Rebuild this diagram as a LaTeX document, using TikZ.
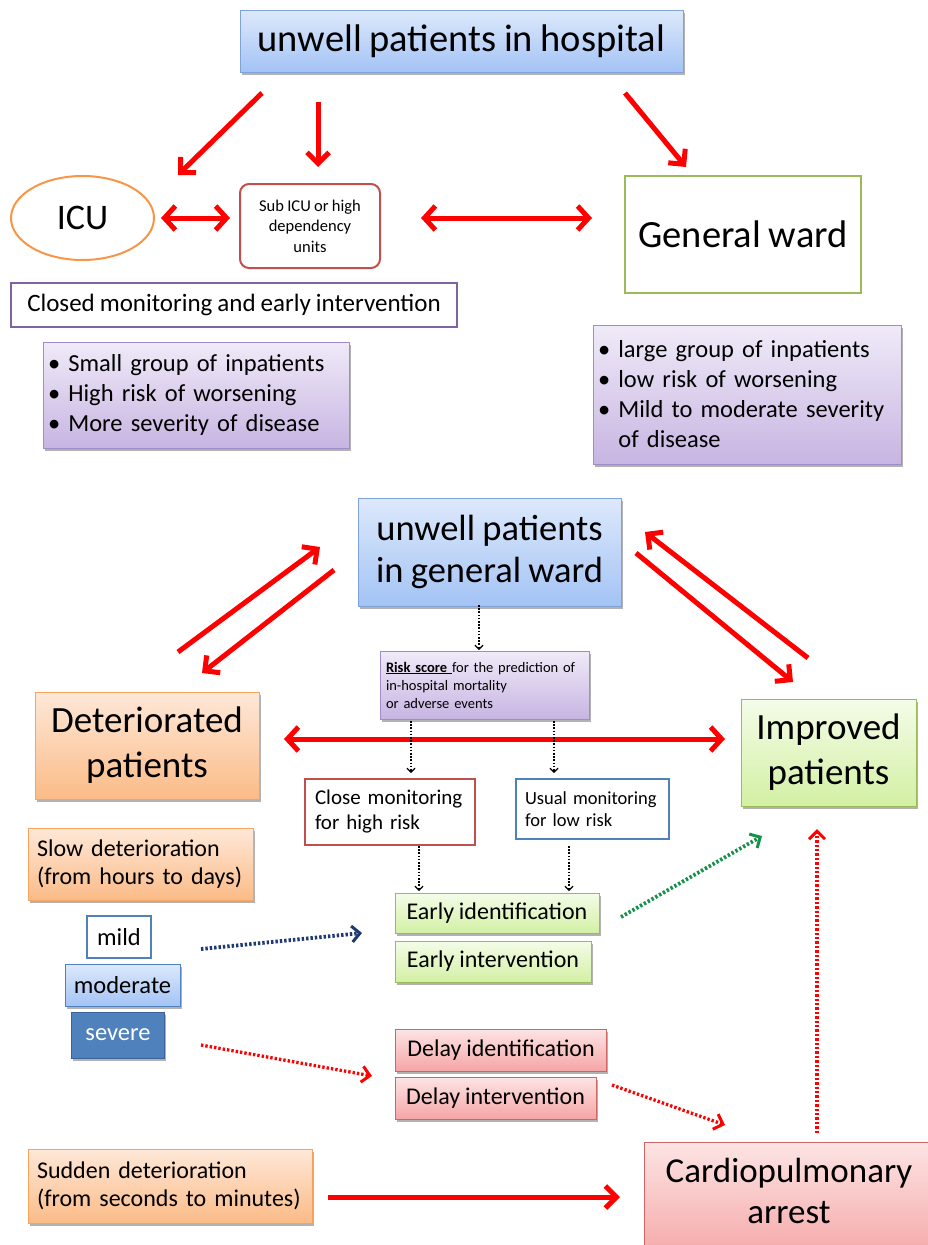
\documentclass[tikz,border=0pt]{standalone}
\usepackage{fontspec}
\setmainfont{Carlito}
\usetikzlibrary{arrows.meta,shadows,shapes.geometric}
\newcommand{\fsz}[2]{\fontsize{#1}{#2}\selectfont\spaceskip=0.2em plus 0.1em minus 0.05em\relax}
\definecolor{bluetop}{HTML}{DDE9FB}
\definecolor{bluebot}{HTML}{A3C3F5}
\definecolor{blueline}{HTML}{7FA3D6}
\definecolor{purtop}{HTML}{F0EAF8}
\definecolor{purbot}{HTML}{C7B5E2}
\definecolor{purline}{HTML}{A08CC6}
\definecolor{ortop}{HTML}{FEE8D8}
\definecolor{orbot}{HTML}{FBBB87}
\definecolor{orline}{HTML}{F7A45C}
\definecolor{grtop}{HTML}{F4FCE8}
\definecolor{grbot}{HTML}{D3F0A4}
\definecolor{grline}{HTML}{9BBB59}
\definecolor{rdtop}{HTML}{FDE4E4}
\definecolor{rdbot}{HTML}{F5A5A5}
\definecolor{rdline}{HTML}{D06565}
\definecolor{brick}{HTML}{C0504D}
\definecolor{accblue}{HTML}{4F81BD}
\definecolor{darkblue}{HTML}{3A6398}
\definecolor{icuor}{HTML}{F79646}
\definecolor{purple}{HTML}{8064A2}
\definecolor{navy}{HTML}{1F3A70}
\definecolor{dgreen}{HTML}{14924A}
\begin{document}
\begin{tikzpicture}[x=1pt,y=-1pt,
  base/.style={rectangle, inner sep=0pt, align=center, text=black},
  shad/.style={drop shadow={shadow xshift=1.5pt, shadow yshift=-2.5pt, opacity=0.3, fill=black}},
  bluebox/.style={base, shad, draw=blueline, line width=1pt, top color=bluetop, bottom color=bluebot},
  purbox/.style={base, shad, draw=purline, line width=1pt, top color=purtop, bottom color=purbot},
  orbox/.style={base, shad, draw=orline, line width=1pt, top color=ortop, bottom color=orbot},
  grbox/.style={base, shad, draw=grline, line width=1pt, top color=grtop, bottom color=grbot},
  rdbox/.style={base, shad, draw=rdline, line width=1pt, top color=rdtop, bottom color=rdbot},
  plainbox/.style={base, fill=white, line width=2pt},
  rarrow/.style={draw=red, line width=5pt, -{Straight Barb[length=11pt,width=22pt]}},
  rboth/.style={draw=red, line width=5pt, {Straight Barb[length=11pt,width=24pt]}-{Straight Barb[length=11pt,width=24pt]}},
  kdot/.style={draw=black, line width=1.2pt, dash pattern=on 1.6pt off 1.6pt, -{Straight Barb[length=4pt,width=8pt,line width=1.2pt]}},
  cdot/.style={line width=3.8pt, dash pattern=on 2.4pt off 2pt, -{Straight Barb[length=8pt,width=16pt,line width=3pt]}}
]
\useasboundingbox (0,0) rectangle (928,1245);

% ---------- upper part ----------
\node[bluebox, minimum width=443pt, minimum height=62pt, font=\fsz{38.5}{44}] (hosp) at (461.5,41) {unwell patients in hospital};
\node[ellipse, draw=icuor, line width=2pt, fill=white, minimum width=143pt, minimum height=84pt, inner sep=0pt, font=\fsz{36}{40}] (icu) at (82.5,218) {ICU};
\node[plainbox, draw=brick, rounded corners=9pt, minimum width=140pt, minimum height=84pt, font=\fsz{16.5}{20.5}] (sub) at (310,226) {Sub ICU or high\\dependency\\units};
\node[plainbox, draw=grline, minimum width=236pt, minimum height=117pt, font=\fsz{38.5}{44}] (gward) at (743,234.5) {General ward};
\node[plainbox, draw=purple, minimum width=446pt, minimum height=44pt, font=\fsz{25}{28}] (closed) at (234,305) {Closed monitoring and early intervention};
\node[purbox, align=left, inner xsep=5pt, text width=296pt, minimum height=106pt, font=\fsz{24.5}{30}] (lbul) at (196,395) {• Small group of inpatients\\• High risk of worsening\\• More severity of disease};
\node[purbox, align=left, inner xsep=5pt, text width=298pt, minimum height=139pt, font=\fsz{24.5}{30}] (rbul) at (747,394.5) {• large group of inpatients\\• low risk of worsening\\• Mild to moderate severity\\\hphantom{•\ }of disease};

\coordinate (a1s) at (262,93);  \coordinate (a1e) at (178,175);
\coordinate (a2s) at (318,102); \coordinate (a2e) at (318,167);
\coordinate (a3s) at (625,93);  \coordinate (a3e) at (686,167);
\coordinate (a4s) at (161,218); \coordinate (a4e) at (230,218);
\coordinate (a5s) at (421,218); \coordinate (a5e) at (592,218);
\draw[rarrow] (a1s) -- (a1e);
\draw[rarrow] (a2s) -- (a2e);
\draw[rarrow] (a3s) -- (a3e);
\draw[rboth] (a4s) -- (a4e);
\draw[rboth] (a5s) -- (a5e);

% ---------- lower part ----------
\node[bluebox, minimum width=263pt, minimum height=108pt, font=\fsz{36.5}{42}] (gw) at (489.5,552) {unwell patients\\in general ward};
\node[purbox, align=left, inner xsep=6pt, text width=197pt, minimum height=68pt, font=\fsz{14.5}{18}] (risk) at (484.5,685) {\underline{\textbf{Risk score}\ }for the prediction of\\in-hospital mortality\\or adverse events};
\node[orbox, minimum width=224pt, minimum height=107pt, font=\fsz{37}{45}] (det) at (147,745.5) {Deteriorated\\patients};
\node[grbox, minimum width=175pt, minimum height=107pt, font=\fsz{37}{45}] (imp) at (828.5,752.5) {Improved\\patients};
\node[plainbox, draw=brick, align=left, inner xsep=10pt, text width=150pt, minimum height=66pt, font=\fsz{21}{25}] (close) at (390,812) {Close monitoring\\for high risk};
\node[plainbox, draw=accblue, align=left, inner xsep=9pt, text width=135pt, minimum height=60pt, font=\fsz{18.5}{22}] (usual) at (592.5,809) {Usual monitoring\\for low risk};
\node[orbox, align=left, inner xsep=9pt, text width=207pt, minimum height=72pt, font=\fsz{24}{28}] (slow) at (140.5,864) {Slow deterioration\\(from hours to days)};
\node[grbox, minimum width=204pt, minimum height=40pt, font=\fsz{24}{27}] (eid) at (497,913) {Early identification};
\node[grbox, minimum width=196pt, minimum height=41pt, font=\fsz{24}{27}] (eint) at (493,961.5) {Early intervention};
\node[plainbox, draw=accblue, minimum width=64pt, minimum height=42pt, font=\fsz{24.5}{28}] (mild) at (119,937) {mild};
\node[bluebox, draw=accblue, minimum width=115pt, minimum height=42pt, font=\fsz{24.5}{28}] (moderate) at (122.5,985) {moderate};
\node[base, shad, fill=accblue, draw=darkblue, line width=1pt, text=white, minimum width=93pt, minimum height=46pt, font=\fsz{24.5}{28}] (severe) at (118,1035) {severe};
\node[rdbox, minimum width=211pt, minimum height=42pt, font=\fsz{24}{27}] (did) at (501,1050) {Delay identification};
\node[rdbox, minimum width=201pt, minimum height=42pt, font=\fsz{24}{27}] (dint) at (495.5,1098) {Delay intervention};
\node[rdbox, minimum width=290pt, minimum height=120pt, font=\fsz{35}{41}, text depth=22pt] (cpa) at (789,1202) {Cardiopulmonary\\arrest};
\node[orbox, align=left, inner xsep=9pt, text width=266pt, minimum height=74pt, font=\fsz{24}{28}] (sudden) at (170,1186) {Sudden deterioration\\(from seconds to minutes)};

\coordinate (b1s) at (178,652); \coordinate (b1e) at (320,547);
\coordinate (b2s) at (334,570); \coordinate (b2e) at (202,673);
\coordinate (b3s) at (808,658); \coordinate (b3e) at (645,532);
\coordinate (b4s) at (636,553); \coordinate (b4e) at (793,682);
\coordinate (b5s) at (284,739); \coordinate (b5e) at (725,739);
\draw[rarrow] (b1s) -- (b1e);
\draw[rarrow] (b2s) -- (b2e);
\draw[rarrow] (b3s) -- (b3e);
\draw[rarrow] (b4s) -- (b4e);
\draw[rboth] (b5s) -- (b5e);

\coordinate (k1s) at (479,605); \coordinate (k1e) at (479,650);
\coordinate (k2s) at (411,721); \coordinate (k2e) at (411,773);
\coordinate (k3s) at (554,721); \coordinate (k3e) at (554,773);
\coordinate (k4s) at (419,846); \coordinate (k4e) at (419,891);
\coordinate (k5s) at (569,846); \coordinate (k5e) at (569,891);
\draw[kdot] (k1s) -- (k1e);
\draw[kdot] (k2s) -- (k2e);
\draw[kdot] (k3s) -- (k3e);
\draw[kdot] (k4s) -- (k4e);
\draw[kdot] (k5s) -- (k5e);

\coordinate (n1s) at (201,949);  \coordinate (n1e) at (362,933);
\coordinate (g1s) at (621,917);  \coordinate (g1e) at (762,836);
\coordinate (r1s) at (201,1045); \coordinate (r1e) at (372,1076);
\coordinate (r2s) at (612,1085); \coordinate (r2e) at (725,1125);
\coordinate (r3s) at (817,1133); \coordinate (r3e) at (817,829);
\draw[cdot, draw=navy] (n1s) -- (n1e);
\draw[cdot, draw=dgreen] (g1s) -- (g1e);
\draw[cdot, draw=red, line width=3.3pt] (r1s) -- (r1e);
\draw[cdot, draw=red, line width=3.3pt] (r2s) -- (r2e);
\draw[cdot, draw=red, line width=3.3pt] (r3s) -- (r3e);
\coordinate (s1s) at (328,1197); \coordinate (s1e) at (620,1197);
\draw[rarrow] (s1s) -- (s1e);
\end{tikzpicture}
\end{document}
